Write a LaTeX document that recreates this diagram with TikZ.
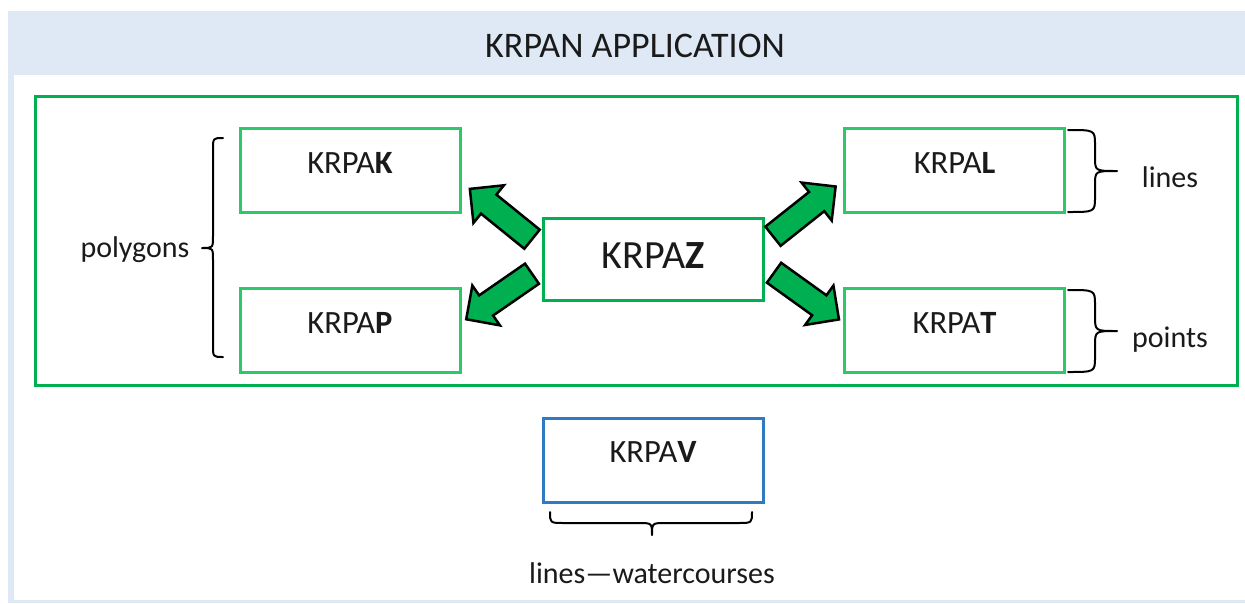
\documentclass[tikz,border=0pt]{standalone}
\usepackage{fontspec}
\setmainfont{Carlito}
\usetikzlibrary{shapes.arrows}
\definecolor{panelblue}{HTML}{DEE9F5}
\definecolor{framegreen}{HTML}{00B050}
\definecolor{boxgreen}{HTML}{2DC86A}
\definecolor{arrowgreen}{HTML}{00B050}
\definecolor{vblue}{HTML}{2E7BC4}
\definecolor{ink}{HTML}{1A1A1A}

\begin{document}
\begin{tikzpicture}[x=1pt,y=-1pt,
  font=\fontsize{32.5}{38}\selectfont, text=ink,
  mod/.style={draw=boxgreen, line width=3pt, minimum width=220pt, minimum height=84pt,
    inner sep=0pt, text height=21pt, text depth=15pt},
  hub/.style={mod, draw=framegreen, minimum height=82pt,
    font=\fontsize{40}{46}\selectfont, text height=26pt, text depth=8pt},
  water/.style={mod, draw=vblue, text depth=17pt},
  note/.style={font=\fontsize{30}{36}\selectfont, anchor=base, inner sep=0pt},
  curly/.style={draw=black, line width=2pt, line cap=round, line join=round},
  fat/.style={single arrow, draw=black, fill=arrowgreen, line width=2.5pt, line join=miter,
    minimum height=80pt, inner xsep=0pt, inner ysep=11pt, single arrow head extend=12pt,
    sloped, allow upside down, pos=0, anchor=tail}
]
\useasboundingbox (0,0) rectangle (1245,603);

% application panel with its title band
\fill[panelblue] (8,11) rectangle (1245,603);
\fill[white] (14,75) rectangle (1245,600);
\node[anchor=base, inner sep=0pt, font=\fontsize{36}{42}\selectfont] (title) at (635,57) {KRPAN APPLICATION};

% frame around the linked layers
\draw[framegreen, line width=3pt] (35,96) rectangle (1237,385);

% layers
\node[mod] (K) at (350,170) {KRPA\textbf{K}};
\node[mod] (P) at (350,330) {KRPA\textbf{P}};
\node[mod] (L) at (954.5,170.5) {KRPA\textbf{L}};
\node[mod] (T) at (954.5,330) {KRPA\textbf{T}};
\node[hub] (Z) at (653,259) {KRPA\textbf{Z}};
\node[water] (V) at (653,460) {KRPA\textbf{V}};

% block arrows from KRPAZ to the other layers
\coordinate (zk) at (533,240); \coordinate (kz) at (470,189);
\coordinate (zp) at (533,273); \coordinate (pz) at (468,318);
\coordinate (zl) at (772,237); \coordinate (lz) at (835,187);
\coordinate (zt) at (773,272); \coordinate (tz) at (837,318);
\path (zk) -- node[fat] {} (kz);
\path (zp) -- node[fat] {} (pz);
\path (zl) -- node[fat] {} (lz);
\path (zt) -- node[fat] {} (tz);

% curly braces
\draw[curly] (223,138) .. controls (213,138) .. (213,150) -- (213,236)
  .. controls (213,248) .. (202,248) .. controls (213,248) .. (213,260)
  -- (213,345) .. controls (213,357) .. (223,357);
\draw[curly] (1068,130) .. controls (1095,130) .. (1095,145) -- (1095,157)
  .. controls (1095,171) .. (1117,171) .. controls (1095,171) .. (1095,185)
  -- (1095,197) .. controls (1095,212) .. (1068,212);
\draw[curly] (1068,290) .. controls (1095,290) .. (1095,305) -- (1095,316)
  .. controls (1095,331) .. (1117,331) .. controls (1095,331) .. (1095,346)
  -- (1095,357) .. controls (1095,372) .. (1068,372);
\draw[curly] (550,512) .. controls (550,523) .. (564,523) -- (638,523)
  .. controls (652,523) .. (652,535) .. controls (652,523) .. (666,523)
  -- (738,523) .. controls (752,523) .. (752,512);

% brace labels
\node[note] (polygons) at (135,257) {polygons};
\node[note] (lines) at (1170,187) {lines};
\node[note] (points) at (1170,347) {points};
\node[note] (watercourses) at (652,583) {lines—watercourses};
\end{tikzpicture}
\end{document}
